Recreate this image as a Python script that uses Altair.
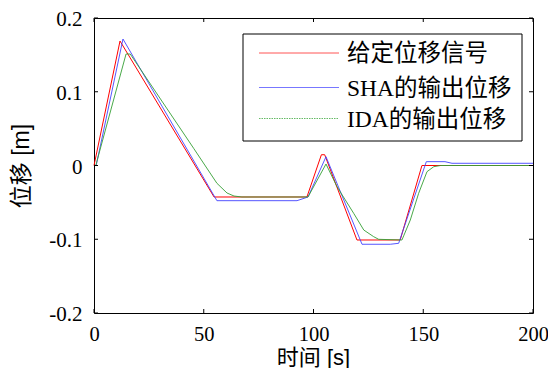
import altair as alt
import pandas as pd

# ---------------- data ----------------
labels = ["给定位移信号", "SHA的输出位移", "IDA的输出位移"]

red_t = [0, 11.85, 54.7, 97.0, 103.6, 105.1, 119.8, 139.5, 149.4, 200]
red_y = [0, 0.1688, -0.0427, -0.0427, 0.0146, 0.0146, -0.101, -0.101, 0.0, 0.0]

blue_t = [0, 1.0, 13.2, 56.0, 92.5, 97.5, 105.7, 122.1, 135.0, 138.8, 151.4, 159.9, 163.1, 200]
blue_y = [0, 0.0, 0.1715, -0.0477, -0.0477, -0.0427, 0.0119, -0.1068, -0.1068, -0.1055,
          0.0052, 0.0052, 0.003, 0.003]

green_t = [0, 0.8, 14.6, 16.5, 45.4, 56.0, 60.6, 63.8, 67.4, 97.5, 105.7, 110.7, 118.3,
           122.9, 127.4, 129.7, 140.3, 144.1, 147.9, 151.7, 154.8, 157.8, 200]
green_y = [0, 0.0, 0.1512, 0.1512, 0.0233, -0.0241, -0.0373, -0.0414, -0.0427, -0.0427,
           0.002, -0.0287, -0.0648, -0.0875, -0.0965, -0.1001, -0.101, -0.0739, -0.0377,
           -0.0084, -0.0016, 0.0, 0.0]

x_ticks = [0, 50, 100, 150, 200]
y_ticks = [-0.2, -0.1, 0, 0.1, 0.2]

# ---------------- styling ----------------
W, H = 439, 295
colors = ["#ff0000", "#4444ff", "#35a035"]
legend_colors = ["#ff5555", "#7777ff", "#66bb66"]
SERIF = "Liberation Serif, Noto Sans CJK SC"
SANS = "Liberation Sans, Noto Sans CJK SC"

xs = alt.Scale(domain=[0, 200], nice=False, zero=False)
ys = alt.Scale(domain=[-0.2, 0.2], nice=False, zero=False)

series = [(red_t, red_y), (blue_t, blue_y), (green_t, green_y)]

x_axis = alt.Axis(values=x_ticks, ticks=False, domain=False, grid=False,
                  labelFont=SERIF, labelFontSize=20.5, labelColor="black",
                  labelPadding=11, labelFlush=False, labelOverlap=False,
                  title="时间 [s]", titleFont=SANS, titleFontSize=22,
                  titleFontWeight="normal", titleColor="black",
                  titleX=219, titleY=44, titleBaseline="middle")
y_axis = alt.Axis(values=y_ticks, ticks=False, domain=False, grid=False,
                  labelFont=SERIF, labelFontSize=21, labelColor="black",
                  labelPadding=12, labelFlush=False, labelOverlap=False, labelOffset=1.5,
                  labelExpr="datum.value == 0 ? '0' : (datum.value < 0 ? '-' : '') + format(abs(datum.value), '.1f')",
                  title="位移 [m]", titleFont=SANS, titleFontSize=23,
                  titleFontWeight="normal", titleColor="black",
                  titleX=-73, titleY=H / 2, titleAngle=-90,
                  titleAlign="center", titleBaseline="middle")

layers = []
for i, (tt, yy) in enumerate(series):
    df = pd.DataFrame({"t": tt, "y": yy, "order": list(range(len(tt)))})
    if i == 0:
        xenc = alt.X("t:Q", scale=xs, axis=x_axis)
        yenc = alt.Y("y:Q", scale=ys, axis=y_axis)
    else:
        xenc = alt.X("t:Q", scale=xs)
        yenc = alt.Y("y:Q", scale=ys)
    layers.append(
        alt.Chart(df).mark_line(color=colors[i], strokeWidth=1,
                                opacity=0.9 if i else 1.0).encode(x=xenc, y=yenc, order="order:Q")
    )

# inward tick marks (box style)
xt = pd.DataFrame({"v": x_ticks})
yt = pd.DataFrame({"v": y_ticks})
layers.append(alt.Chart(xt).mark_rule(color="black", strokeWidth=1).encode(
    x=alt.X("v:Q", scale=xs), y=alt.value(H), y2=alt.value(H - 4)))
layers.append(alt.Chart(xt).mark_rule(color="black", strokeWidth=1).encode(
    x=alt.X("v:Q", scale=xs), y=alt.value(0), y2=alt.value(4)))
layers.append(alt.Chart(yt).mark_rule(color="black", strokeWidth=1).encode(
    y=alt.Y("v:Q", scale=ys), x=alt.value(0), x2=alt.value(4)))
layers.append(alt.Chart(yt).mark_rule(color="black", strokeWidth=1).encode(
    y=alt.Y("v:Q", scale=ys), x=alt.value(W), x2=alt.value(W - 4)))

# legend box
box = pd.DataFrame({"k": [0]})
layers.append(alt.Chart(box).mark_rect(fill="white", stroke="black", strokeWidth=1).encode(
    x=alt.value(149), x2=alt.value(428), y=alt.value(16), y2=alt.value(123)))

row_y = [35, 69.5, 100.5]
dashes = [[1, 0], [1, 0], [1.5, 1]]
for i, lab in enumerate(labels):
    d = pd.DataFrame({"label": [lab]})
    layers.append(alt.Chart(d).mark_rule(color=legend_colors[i], strokeWidth=1,
                                         strokeDash=dashes[i]).encode(
        x=alt.value(165), x2=alt.value(245), y=alt.value(row_y[i])))
    layers.append(alt.Chart(d).mark_text(align="left", baseline="middle", font=SERIF,
                                         fontSize=23.5, color="black").encode(
        x=alt.value(253), y=alt.value(row_y[i] + 1), text="label:N"))

chart = alt.layer(*layers).properties(
    width=W, height=H,
    autosize=alt.AutoSizeParams(type="none"),
    padding={"left": 86, "top": 10, "right": 15, "bottom": 55},
    background="white",
).configure_view(stroke="black", strokeWidth=1)

chart.save("out.html", embed_options={"renderer": "svg", "actions": False})
